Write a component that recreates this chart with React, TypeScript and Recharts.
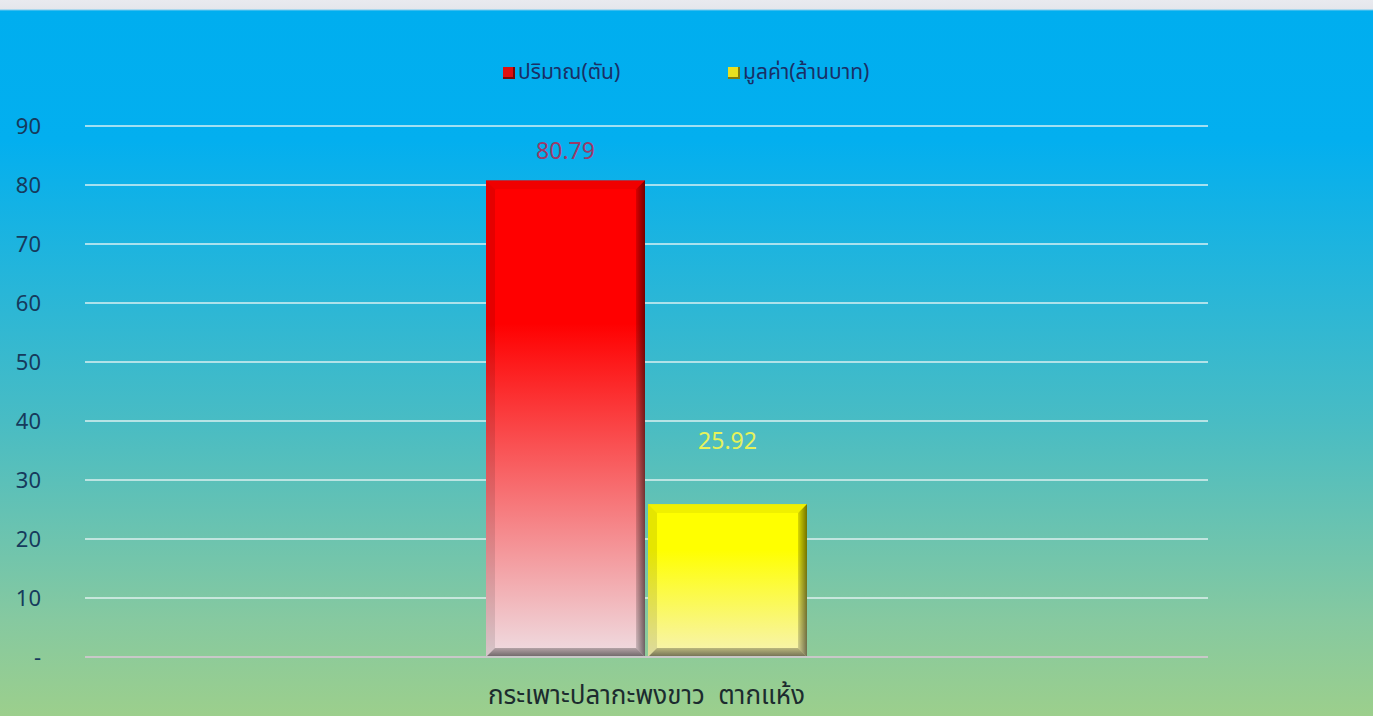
import { BarChart, Bar, XAxis, YAxis, CartesianGrid, Legend, LabelList } from "recharts";

const categories = ["กระเพาะปลากะพงขาว  ตากแห้ง"];
const quantityTons = [80.79];
const valueMillionBaht = [25.92];
const yTicks = [0, 10, 20, 30, 40, 50, 60, 70, 80, 90];

const data = categories.map((name, i) => ({
  name,
  qty: quantityTons[i],
  value: valueMillionBaht[i],
}));

const FONT = "Tahoma, 'Noto Sans Thai', 'Noto Sans', 'DejaVu Sans', sans-serif";

const gradients: Record<string, [string, string]> = {
  qty: ["#ff0000", "#efdde2"],
  value: ["#ffff00", "#f7f3b4"],
};

// bar with a bevelled look like the excel original
const BevelBar = (props: any) => {
  const { x, y, width, height, dataKey } = props;
  if (!width || !height) return null;
  const b = 9;
  const [c1, c2] = gradients[dataKey];
  const id = "grad-" + dataKey;
  return (
    <g>
      <defs>
        <linearGradient id={id} x1="0" y1="0" x2="0" y2="1">
          <stop offset="0%" stopColor={c1} />
          <stop offset="30%" stopColor={c1} />
          <stop offset="100%" stopColor={c2} />
        </linearGradient>
        <linearGradient id={id + "-r"} x1="0" y1="0" x2="1" y2="0">
          <stop offset="0%" stopColor="#000" stopOpacity={0.15} />
          <stop offset="100%" stopColor="#000" stopOpacity={0.55} />
        </linearGradient>
        <linearGradient id={id + "-b"} x1="0" y1="0" x2="0" y2="1">
          <stop offset="0%" stopColor="#000" stopOpacity={0.25} />
          <stop offset="100%" stopColor="#000" stopOpacity={0.55} />
        </linearGradient>
      </defs>
      <rect x={x} y={y} width={width} height={height} fill={`url(#${id})`} />
      <polygon
        points={`${x},${y} ${x + width},${y} ${x + width - b},${y + b} ${x + b},${y + b}`}
        fill="#000" fillOpacity={0.06}
      />
      <polygon
        points={`${x + width},${y} ${x + width},${y + height} ${x + width - b},${y + height - b} ${x + width - b},${y + b}`}
        fill={`url(#${id}-r)`}
      />
      <polygon
        points={`${x},${y + height} ${x + width},${y + height} ${x + width - b},${y + height - b} ${x + b},${y + height - b}`}
        fill={`url(#${id}-b)`}
      />
      <polygon
        points={`${x},${y} ${x + b},${y + b} ${x + b},${y + height - b} ${x},${y + height}`}
        fill="#000" fillOpacity={0.1}
      />
    </g>
  );
};

const makeLabel = (color: string, lift: number) => (props: any) => {
  const { x, y, width, value } = props;
  return (
    <text x={x + width / 2} y={y - lift} textAnchor="middle" fill={color} fontSize={23} fontFamily={FONT}>
      {Number(value).toFixed(2)}
    </text>
  );
};

const CategoryTick = (props: any) => {
  const { x, y, payload } = props;
  return (
    <text x={x} y={y + 39} textAnchor="middle" fill="#1c2b2e" fontSize={26} fontFamily={FONT} style={{ whiteSpace: "pre" }}>
      {payload.value}
    </text>
  );
};

const ValueTick = (props: any) => {
  const { x, y, payload } = props;
  return (
    <text x={x} y={y + 8} textAnchor="end" fill="#163a5c" fontSize={22} fontFamily={FONT}>
      {payload.value === 0 ? "-" : payload.value}
    </text>
  );
};

const legendItems = [
  { key: "qty", label: "ปริมาณ(ตัน)", color: "#e01010", x: 503 },
  { key: "value", label: "มูลค่า(ล้านบาท)", color: "#e8e020", x: 728 },
];

const TopLegend = () => (
  <div style={{ position: "relative", height: 24, fontFamily: FONT }}>
    {legendItems.map((it) => (
      <div key={it.key} style={{ position: "absolute", left: it.x, top: 0, display: "flex", alignItems: "center" }}>
        <span
          style={{
            width: 12,
            height: 12,
            background: it.color,
            boxShadow: "inset -2px -2px 0 rgba(0,0,0,0.45)",
            marginRight: 3,
          }}
        />
        <span style={{ fontSize: 21, color: "#1a2f66" }}>{it.label}</span>
      </div>
    ))}
  </div>
);

export default function App() {
  return (
    <div
      style={{
        position: "fixed",
        left: 0,
        top: 0,
        width: 1373,
        height: 716,
        background:
          "linear-gradient(to bottom, #e9eaef 0px, #e4e6ec 9px, #00aeef 11px, #03afef 140px, #48bcc4 420px, #86c9a0 620px, #9ccf8c 716px)",
      }}
    >
      <BarChart
        width={1373}
        height={716}
        data={data}
        margin={{ top: 102, right: 165, bottom: 0, left: 0 }}
        barSize={159}
        barGap={3}
      >
        <CartesianGrid vertical={false} stroke="#e6f4f4" strokeOpacity={0.7} strokeWidth={2} />
        <XAxis
          dataKey="name"
          height={59}
          axisLine={{ stroke: "#c8c8c8", strokeWidth: 2 }}
          tickLine={false}
          tick={<CategoryTick />}
          interval={0}
        />
        <YAxis
          width={85}
          domain={[0, 90]}
          ticks={yTicks}
          axisLine={false}
          tickLine={false}
          tickMargin={38}
          tick={<ValueTick />}
        />
        <Legend verticalAlign="top" align="left" content={<TopLegend />} wrapperStyle={{ top: 57, left: 0, width: 1373 }} />
        <Bar dataKey="qty" name="ปริมาณ(ตัน)" fill="#ff0000" shape={<BevelBar />} isAnimationActive={false}>
          <LabelList dataKey="qty" content={makeLabel("#9c3a68", 21)} />
        </Bar>
        <Bar dataKey="value" name="มูลค่า(ล้านบาท)" fill="#ffff00" shape={<BevelBar />} isAnimationActive={false}>
          <LabelList dataKey="value" content={makeLabel("#e6f25a", 55)} />
        </Bar>
      </BarChart>
    </div>
  );
}
